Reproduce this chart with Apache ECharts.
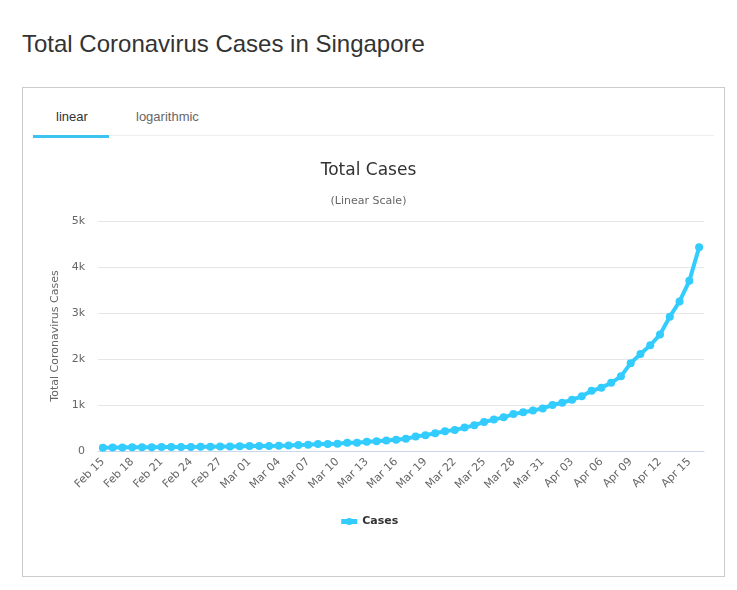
<!DOCTYPE html>
<html>
<head>
<meta charset="utf-8">
<script src="https://cdn.jsdelivr.net/npm/echarts@6/dist/echarts.min.js"></script>
<style>
html,body{margin:0;padding:0;background:#fff;width:737px;height:590px;overflow:hidden;}
#page-title{position:absolute;left:22px;top:30px;font:24px "Liberation Sans",Arial,sans-serif;color:#333;white-space:nowrap;}
#box{position:absolute;left:22px;top:87px;width:701px;height:488px;border:1px solid #ccc;}
#sep{position:absolute;left:109px;top:135px;width:605px;height:1px;background:#eee;}
#uline{position:absolute;left:33px;top:135px;width:76px;height:3px;background:#3cc3ee;}
.tab{position:absolute;top:109px;font:13px "Liberation Sans",Arial,sans-serif;white-space:nowrap;}
#chart{position:absolute;left:0;top:0;width:737px;height:590px;}
</style>
</head>
<body>
<div id="page-title">Total Coronavirus Cases in Singapore</div>
<div id="box"></div>
<div id="sep"></div>
<div id="uline"></div>
<div class="tab" style="left:56px;color:#333;">linear</div>
<div class="tab" style="left:136px;color:#666;">logarithmic</div>
<div id="chart"></div>
<script>
const dates = [
 "Feb 15","Feb 16","Feb 17","Feb 18","Feb 19","Feb 20","Feb 21","Feb 22","Feb 23","Feb 24",
 "Feb 25","Feb 26","Feb 27","Feb 28","Feb 29",
 "Mar 01","Mar 02","Mar 03","Mar 04","Mar 05","Mar 06","Mar 07","Mar 08","Mar 09","Mar 10",
 "Mar 11","Mar 12","Mar 13","Mar 14","Mar 15","Mar 16","Mar 17","Mar 18","Mar 19","Mar 20",
 "Mar 21","Mar 22","Mar 23","Mar 24","Mar 25","Mar 26","Mar 27","Mar 28","Mar 29","Mar 30","Mar 31",
 "Apr 01","Apr 02","Apr 03","Apr 04","Apr 05","Apr 06","Apr 07","Apr 08","Apr 09","Apr 10",
 "Apr 11","Apr 12","Apr 13","Apr 14","Apr 15","Apr 16"
];
const cases = [
 72,75,77,81,84,84,85,86,89,89,
 91,93,96,98,102,
 106,108,110,112,117,130,138,150,150,160,
 178,178,200,212,226,243,266,313,345,385,
 432,455,509,558,631,683,732,802,844,879,926,
 1000,1049,1114,1189,1309,1375,1481,1623,1910,2108,
 2299,2532,2918,3252,3699,4427
];
const yTicks = { min: 0, max: 5000, interval: 1000 };
const seriesName = "Cases";

const chart = echarts.init(document.getElementById('chart'), null, {renderer: 'canvas'});
const font = '"DejaVu Sans", Verdana, sans-serif';
chart.setOption({
  animation: false,
  title: {
    text: 'Total Cases',
    subtext: '(Linear Scale)',
    left: 'center',
    top: 157,
    itemGap: 17,
    textStyle: {fontFamily: font, fontSize: 17, fontWeight: 'normal', color: '#333'},
    subtextStyle: {fontFamily: font, fontSize: 11, color: '#666'}
  },
  legend: {
    data: [seriesName],
    bottom: 58,
    left: 'center',
    itemWidth: 16,
    itemHeight: 9,
    lineStyle: {width: 5},
    textStyle: {fontFamily: font, fontSize: 11, fontWeight: 'bold', color: '#333'}
  },
  grid: {left: 98, right: 33, top: 221, bottom: 139, containLabel: false},
  xAxis: {
    type: 'category',
    data: dates,
    boundaryGap: true,
    axisLine: {lineStyle: {color: '#ccd6eb'}},
    axisTick: {show: false},
    axisLabel: {
      interval: 2,
      rotate: 45,
      margin: 9,
      fontFamily: font,
      fontSize: 11,
      color: '#666'
    }
  },
  yAxis: {
    type: 'value',
    min: yTicks.min,
    max: yTicks.max,
    interval: yTicks.interval,
    name: 'Total Coronavirus Cases',
    nameLocation: 'middle',
    nameGap: 37,
    nameTextStyle: {fontFamily: font, fontSize: 11, color: '#666'},
    axisLine: {show: false},
    axisTick: {show: false},
    splitLine: {lineStyle: {color: '#e6e6e6'}},
    axisLabel: {
      fontFamily: font, fontSize: 11, color: '#666', margin: 13,
      formatter: v => v === 0 ? '0' : (v / 1000) + 'k'
    }
  },
  series: [{
    name: seriesName,
    type: 'line',
    data: cases,
    symbol: 'circle',
    symbolSize: 8,
    showSymbol: true,
    showAllSymbol: true,
    lineStyle: {width: 4, color: '#33ccff'},
    itemStyle: {color: '#33ccff'}
  }]
});
</script>
</body>
</html>
